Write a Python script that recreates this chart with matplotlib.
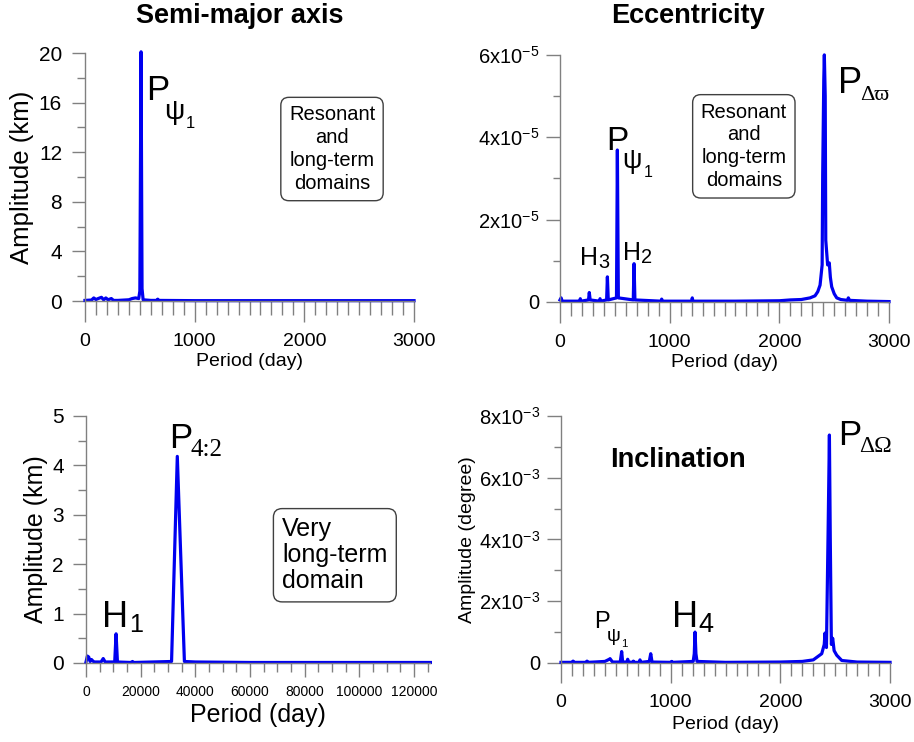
import numpy as np
import matplotlib
matplotlib.use("Agg")
import matplotlib.pyplot as plt
from matplotlib.ticker import MultipleLocator

plt.rcParams['font.family'] = ['Liberation Sans', 'DejaVu Sans']
plt.rcParams['mathtext.fontset'] = 'custom'
plt.rcParams['mathtext.rm'] = 'Liberation Sans'
plt.rcParams['mathtext.it'] = 'Liberation Sans:italic'

# ---- data ----
# semi-major axis, short periods (day, km)
sma_period = [0, 60, 80, 100, 120, 150, 170, 190, 210, 240, 260, 300, 400, 430, 460,
              490, 500, 511, 520, 530, 600, 655, 663, 670, 1000, 2000, 3000]
sma_amp = [0.05, 0.08, 0.25, 0.12, 0.2, 0.3, 0.1, 0.25, 0.1, 0.2, 0.05, 0.05, 0.1, 0.2, 0.25,
           0.2, 0.8, 20.1, 1.0, 0.1, 0.05, 0.05, 0.15, 0.05, 0.03, 0.03, 0.03]

# eccentricity (amplitude in units of 1e-5)
ecc_period = [0, 10, 20, 100, 180, 185, 190, 260, 267, 275, 360, 365, 370, 425, 432, 440,
              515, 523, 532, 668, 675, 683, 920, 927, 935, 1200, 1206, 1212, 1600, 2000,
              2100, 2200, 2280, 2325, 2350, 2371, 2390, 2395, 2405, 2410, 2418, 2423, 2440,
              2455, 2465, 2477, 2500, 2523, 2560, 2620, 2629, 2640, 2800, 3000]
ecc_amp_e5 = [0.05, 0.1, 0.02, 0.02, 0.02, 0.08, 0.02, 0.05, 0.23, 0.05, 0.02, 0.08, 0.02, 0.05,
              0.61, 0.05, 0.1, 3.69, 0.1, 0.05, 0.93, 0.05, 0.02, 0.07, 0.02, 0.02, 0.1, 0.02,
              0.02, 0.03, 0.05, 0.06, 0.1, 0.15, 0.25, 0.41, 0.9, 3.08, 5.4, 6.0, 5.0, 1.5, 0.9,
              0.95, 0.6, 0.37, 0.2, 0.1, 0.06, 0.04, 0.1, 0.04, 0.02, 0.01]

# semi-major axis, very long periods (day, km)
sma_long_period = [0, 500, 1000, 1500, 2000, 2500, 3000, 5500, 6300, 7000, 10500, 11000,
                   11500, 16500, 17000, 17500, 31300, 33400, 36000, 40000, 60000, 80000,
                   100000, 126000]
sma_long_amp = [0.02, 0.14, 0.12, 0.03, 0.07, 0.04, 0.02, 0.02, 0.09, 0.02, 0.02, 0.59,
                0.02, 0.01, 0.03, 0.01, 0.03, 4.18, 0.03, 0.02, 0.01, 0.01, 0.01, 0.01]

# inclination (amplitude in units of 1e-3 degree)
inc_period = [0, 100, 110, 120, 230, 237, 245, 300, 400, 440, 447, 455, 470, 540, 553, 562,
              600, 608, 616, 655, 660, 668, 712, 720, 728, 805, 818, 830, 1000, 1009, 1015,
              1205, 1215, 1222, 1230, 1240, 1500, 2000, 2200, 2300, 2377, 2400, 2407, 2420,
              2435, 2447, 2455, 2465, 2477, 2490, 2514, 2560, 2700, 3000]
inc_amp_e3 = [0.02, 0.02, 0.06, 0.02, 0.02, 0.06, 0.02, 0.03, 0.05, 0.12, 0.14, 0.1, 0.03,
              0.03, 0.37, 0.03, 0.03, 0.12, 0.03, 0.02, 0.06, 0.02, 0.02, 0.1, 0.02, 0.05,
              0.3, 0.03, 0.02, 0.05, 0.02, 0.05, 0.3, 1.0, 0.3, 0.05, 0.02, 0.03, 0.05, 0.1,
              0.3, 0.6, 0.97, 0.5, 4.2, 7.38, 4.0, 0.6, 0.8, 0.4, 0.25, 0.08, 0.03, 0.02]

ecc_ticks = [0, 2e-5, 4e-5, 6e-5]
ecc_ticklabels = ['0', '2x10$^{-5}$', '4x10$^{-5}$', '6x10$^{-5}$']
inc_ticks = [0, 2e-3, 4e-3, 6e-3, 8e-3]
inc_ticklabels = ['0', '2x10$^{-3}$', '4x10$^{-3}$', '6x10$^{-3}$', '8x10$^{-3}$']

BLUE = '#0000f0'
GREY = '#808080'
SERIF = ['Liberation Serif', 'DejaVu Serif']
SANS = ['Liberation Sans', 'DejaVu Sans']

fig = plt.figure(figsize=(9.14, 7.42), dpi=100)
ax_a = fig.add_axes([0.0930, 0.5943, 0.3600, 0.3342])
ax_e = fig.add_axes([0.6127, 0.5930, 0.3600, 0.3330])
ax_l = fig.add_axes([0.0941, 0.1065, 0.3768, 0.3330])
ax_i = fig.add_axes([0.6138, 0.1065, 0.3600, 0.3330])


def style(ax, xmaj, xmin, ymin, xlen=(15, 10), ylen=(9.5, 6), xsize=14, ysize=15,
          xpad=8, ypad=7):
    for s in ('top', 'right'):
        ax.spines[s].set_visible(False)
    for s in ('left', 'bottom'):
        ax.spines[s].set_color(GREY)
        ax.spines[s].set_linewidth(1)
    ax.xaxis.set_major_locator(MultipleLocator(xmaj))
    ax.xaxis.set_minor_locator(MultipleLocator(xmin))
    ax.yaxis.set_minor_locator(MultipleLocator(ymin))
    ax.tick_params(axis='x', which='major', direction='out', length=xlen[0], width=1,
                   color=GREY, labelsize=xsize, pad=xpad)
    ax.tick_params(axis='x', which='minor', direction='out', length=xlen[1], width=1,
                   color=GREY)
    ax.tick_params(axis='y', which='major', direction='out', length=ylen[0], width=1,
                   color=GREY, labelsize=ysize, pad=ypad)
    ax.tick_params(axis='y', which='minor', direction='out', length=ylen[1], width=1,
                   color=GREY)


def label(ax, x, y, main, size, parts):
    # main letter at (x, y) baseline, pieces shifted right/down in units of its size
    ax.text(x, y, main, fontsize=size, ha='left', va='baseline')
    for s, dx, dy, rel, fam in parts:
        ax.annotate(s, xy=(x, y), xytext=(dx * size, -dy * size), textcoords='offset points',
                    fontsize=rel * size, ha='left', va='baseline', family=fam,
                    annotation_clip=False)


def psi1(ax, x, y, size):
    label(ax, x, y, 'P', size, [('ψ', 0.5, 0.55, 0.82, SANS), ('1', 1.12, 0.8, 0.48, SANS)])


box = dict(boxstyle='round,pad=0.4', fc='white', ec='#404040', lw=1)

# --- semi-major axis ---
ax = ax_a
ax.plot(sma_period, sma_amp, color=BLUE, lw=2.3, clip_on=False)
ax.set_xlim(0, 3000)
ax.set_ylim(0, 20)
ax.set_yticks([0, 4, 8, 12, 16, 20])
style(ax, 1000, 100, 2)
psi1(ax, 560, 16.2, 25)
ax.text(2252, 12.26, 'Resonant\nand\nlong-term\ndomains', fontsize=14.5, ha='center',
        va='center', multialignment='center', linespacing=1.25, bbox=box)
ax.text(-0.19, 0.5, 'Amplitude (km)', fontsize=18.5, rotation=90, ha='center',
        va='center', transform=ax.transAxes)
ax.text(0.5, -0.245, 'Period (day)', fontsize=14, ha='center', va='center',
        transform=ax.transAxes)

# --- eccentricity ---
ax = ax_e
ax.plot(ecc_period, np.array(ecc_amp_e5) * 1e-5, color=BLUE, lw=2.3, clip_on=False)
ax.set_xlim(0, 3000)
ax.set_ylim(0, 6e-5)
ax.set_yticks(ecc_ticks, ecc_ticklabels)
style(ax, 1000, 100, 1e-5, ylen=(10, 5), ysize=14.5, ypad=5)
psi1(ax, 420, 3.69e-5, 24)
label(ax, 2535, 5.07e-5, 'P', 26, [('Δϖ', 0.6, 0.18, 0.62, SERIF)])
label(ax, 186, 0.9e-5, 'H', 18, [('3', 0.72, 0.13, 0.8, SANS)])
label(ax, 574, 1.02e-5, 'H', 18, [('2', 0.72, 0.13, 0.8, SANS)])
ax.text(1676, 3.78e-5, 'Resonant\nand\nlong-term\ndomains', fontsize=14.5, ha='center',
        va='center', multialignment='center', linespacing=1.25, bbox=box)
ax.text(0.5, -0.245, 'Period (day)', fontsize=14, ha='center', va='center',
        transform=ax.transAxes)

# --- semi-major axis, very long term ---
ax = ax_l
ax.plot(sma_long_period, sma_long_amp, color=BLUE, lw=2.3, clip_on=False)
ax.set_xlim(0, 126000)
ax.set_ylim(0, 5)
ax.set_yticks([0, 1, 2, 3, 4, 5])
style(ax, 20000, 5000, 0.5, xlen=(10, 6.5), xsize=10, ysize=15, xpad=6, ypad=6.5)
label(ax, 30500, 4.35, 'P', 25, [('4:2', 0.6, 0.22, 0.72, SERIF)])
label(ax, 6000, 0.73, 'H', 26, [('1', 0.74, 0.14, 0.7, SANS)])
ax.text(91040, 2.18, 'Very\nlong-term\ndomain', fontsize=18, ha='center', va='center',
        multialignment='left', linespacing=1.1, bbox=dict(boxstyle='round,pad=0.35',
        fc='white', ec='#404040', lw=1))
ax.text(-0.146, 0.5, 'Amplitude (km)', fontsize=18, rotation=90, ha='center',
        va='center', transform=ax.transAxes)
ax.text(0.5, -0.21, 'Period (day)', fontsize=18, ha='center', va='center',
        transform=ax.transAxes)

# --- inclination ---
ax = ax_i
ax.plot(inc_period, np.array(inc_amp_e3) * 1e-3, color=BLUE, lw=2.3, clip_on=False)
ax.set_xlim(0, 3000)
ax.set_ylim(0, 8e-3)
ax.set_yticks(inc_ticks, inc_ticklabels)
style(ax, 1000, 100, 1e-3, xlen=(14.5, 9.5), ylen=(10, 5), ysize=14.5, ypad=5)
ax.text(1070, 6.57e-3, 'Inclination', fontsize=19.5, fontweight='bold', ha='center',
        va='center')
label(ax, 2525, 7.06e-3, 'P', 25, [('ΔΩ', 0.6, 0.2, 0.68, SERIF)])
psi1(ax, 305, 1.12e-3, 17)
label(ax, 1012, 1.18e-3, 'H', 26, [('4', 0.74, 0.14, 0.75, SANS)])
ax.text(-0.285, 0.5, 'Amplitude (degree)', fontsize=14, rotation=90, ha='center',
        va='center', transform=ax.transAxes)
ax.text(0.5, -0.25, 'Period (day)', fontsize=14, ha='center', va='center',
        transform=ax.transAxes)

fig.text(0.2626, 0.978, 'Semi-major axis', fontsize=19.5, fontweight='bold', ha='center',
         va='center')
fig.text(0.7527, 0.978, 'Eccentricity', fontsize=19.5, fontweight='bold', ha='center',
         va='center')

fig.savefig('out.png', dpi=100, facecolor='white')
